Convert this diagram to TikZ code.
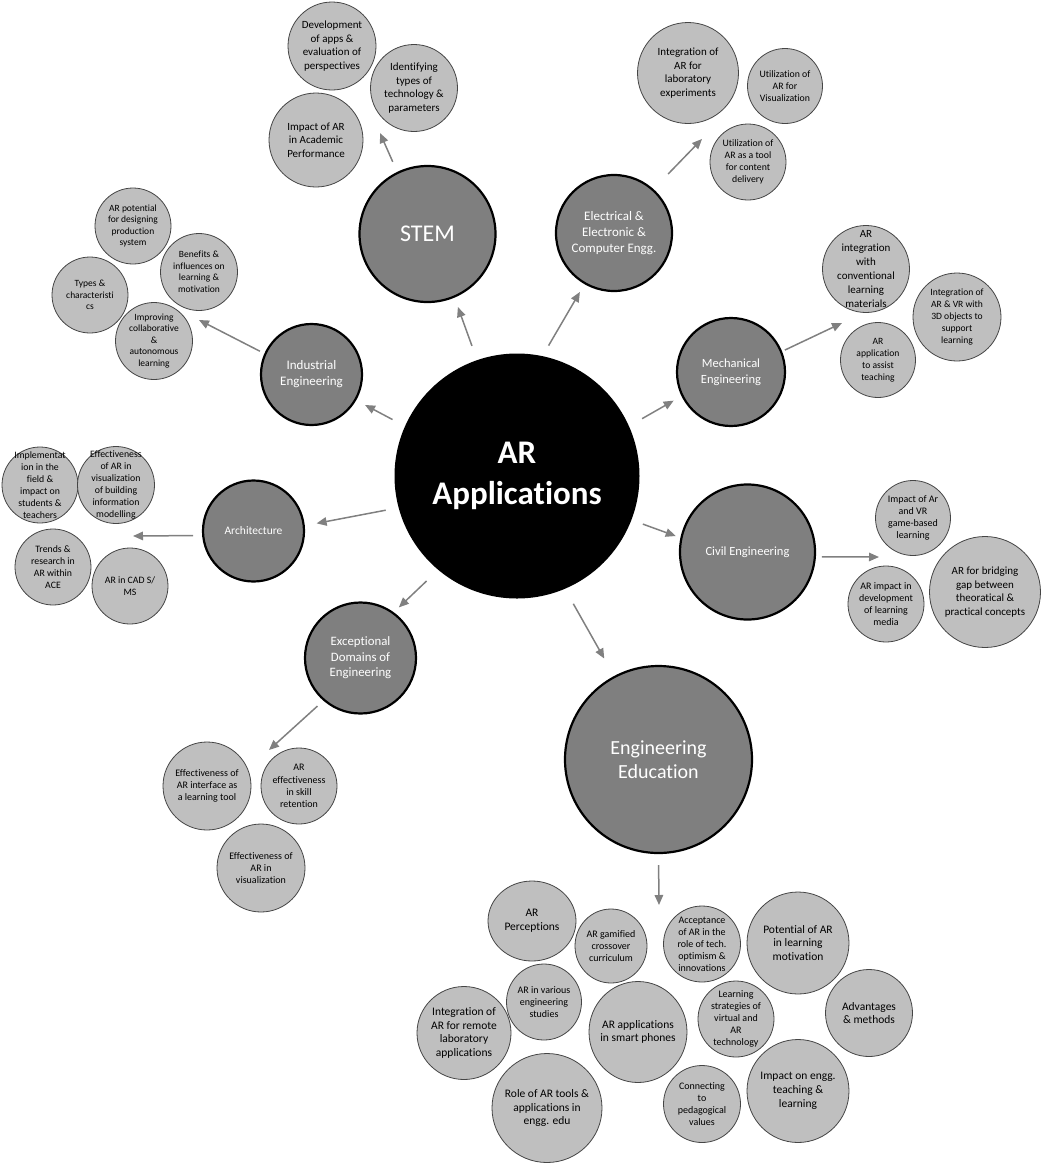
\documentclass[tikz,border=0pt]{standalone}
\usepackage{fontspec}
\setmainfont{Carlito}[Ligatures=CommonOff]
\usepackage{xcolor}
\usepackage{tikz}
\usetikzlibrary{arrows.meta, shapes.geometric}

\definecolor{topicgray}{HTML}{7F7F7F}
\definecolor{subgray}{HTML}{BFBFBF}
\definecolor{rimgray}{HTML}{454545}
\definecolor{arrowgray}{HTML}{808080}

\begin{document}
\begin{tikzpicture}[x=1pt, y=-1pt,
	hub/.style={circle, fill=black, text=white, inner sep=0pt, minimum size=245pt, align=center, font=\bfseries\fontsize{33}{41}\selectfont},
	topic/.style={circle, draw=black, line width=2.2pt, fill=topicgray, text=white, inner sep=0pt, align=center},
	sub/.style={ellipse, draw=rimgray, line width=0.8pt, fill=subgray, inner sep=0pt},
	subtext/.style={align=center, text=black, inner sep=0pt},
	arr/.style={draw=arrowgray, line width=1.5pt, -{Triangle[length=10pt, width=8.5pt]}}]

	\useasboundingbox (0,0) rectangle (1052,1163);

	\node[hub] (hub) at (517,476) {AR\\Applications};

	\begin{scope}
		\node[topic, minimum size=136pt, font=\fontsize{24}{28}\selectfont] (stem) at (427.5,234) {STEM};
		\node[topic, minimum size=116pt, font=\fontsize{13}{16}\selectfont] (ee) at (614,233) {Electrical \&\\Electronic \&\\Computer Engg.};
		\node[topic, minimum size=108pt, font=\fontsize{12.5}{16}\selectfont] (mech) at (731,372) {Mechanical\\Engineering};
		\node[topic, minimum size=135pt, font=\fontsize{12.5}{16}\selectfont] (civil) at (747.5,552) {Civil Engineering};
		\node[topic, minimum size=187pt, font=\fontsize{20}{23.5}\selectfont] (engedu) at (658.5,759.5) {Engineering\\Education};
		\node[topic, minimum size=111pt, font=\fontsize{12.8}{15.5}\selectfont] (exc) at (360.5,658) {Exceptional\\Domains of\\Engineering};
		\node[topic, minimum size=101pt, font=\fontsize{11.5}{14}\selectfont] (arch) at (253.5,531) {Architecture};
		\node[topic, minimum size=101pt, font=\fontsize{13}{16}\selectfont] (ind) at (311.5,374.5) {Industrial\\Engineering};
	\end{scope}

	\begin{scope}[arr]
		\draw[shorten <=15pt, shorten >=10pt] (hub.109) -- (stem.293);
		\draw[shorten <=12pt, shorten >=9pt] (hub.78) -- (ee.240);
		\draw[shorten <=15pt, shorten >=9pt] (hub.24) -- (mech.206);
		\draw[shorten <=12pt, shorten >=5pt] (hub.339) -- (civil.168);
		\draw[shorten <=17pt, shorten >=20pt] (hub.293) -- (engedu.118);
		\draw[shorten <=16pt, shorten >=7pt] (hub.230) -- (exc.54);
		\draw[shorten <=13pt, shorten >=12pt] (hub.195) -- (arch.6);
		\draw[shorten <=14pt, shorten >=10pt] (hub.156) -- (ind.330);
	\end{scope}

	\begin{scope}[arr]
		\coordinate (stem-to) at (380,133);
		\coordinate (ind-to) at (199,320);
		\coordinate (ee-to) at (702,139);
		\coordinate (mech-to) at (842,323);
		\coordinate (civil-to) at (879,557);
		\coordinate (arch-to) at (133,536);
		\coordinate (exc-to) at (269,750);
		\coordinate (engedu-to) at (659,905);

		\draw[shorten <=11pt] (stem.116) -- (stem-to);
		\draw[shorten <=5pt] (ind.156) -- (ind-to);
		\draw[shorten <=21pt] (ee.48) -- (ee-to);
		\draw[shorten <=3pt] (mech.22) -- (mech-to);
		\draw[shorten <=6pt] (civil.356) -- (civil-to);
		\draw[shorten <=9pt] (arch.185) -- (arch-to);
		\draw[shorten <=8pt] (exc.229) -- (exc-to);
		\draw[shorten <=11pt] (engedu.270) -- (engedu-to);
	\end{scope}

	\begin{scope}[subtext/.append style={font=\fontsize{11}{13.5}\selectfont}]
		\foreach \n/\p/\d/\t in {s1/{332,46}/88/{Development\\of apps \&\\evaluation of\\perspectives},
			s2/{414,88}/87/{Identifying\\types of\\technology \&\\parameters},
			s3/{316,140}/94/{Impact of AR\\in Academic\\Performance}}
		{
			\node[sub, minimum size=\d pt] (\n) at (\p) {};
			\node[subtext] (\n-t) at (\n) {\t};
		}
	\end{scope}

	\begin{scope}[subtext/.append style={font=\fontsize{9.5}{11.5}\selectfont}]
		\foreach \n/\p/\d/\t in {i1/{133,226}/76/{AR potential\\for designing\\production\\system},
			i2/{199,272}/77/{Benefits \&\\influences on\\learning \&\\motivation},
			i3/{90,295}/76/{Types \&\\characteristi\\cs},
			i4/{154,341}/77/{Improving\\collaborative\\\&\\autonomous\\learning}}
		{
			\node[sub, minimum size=\d pt] (\n) at (\p) {};
			\node[subtext] (\n-t) at (\n) {\t};
		}
	\end{scope}

	\begin{scope}[subtext/.append style={font=\fontsize{9.8}{12.2}\selectfont}]
		\node[sub, minimum size=101pt] (e1) at (688,73) {};
		\node[subtext, font=\fontsize{11}{13.5}\selectfont] (e1-t) at (e1) {Integration of\\AR for\\laboratory\\experiments};
		\foreach \n/\p/\d/\t in {e2/{785,86}/75/{Utilization of\\AR for\\Visualization},
			e3/{748,162}/76/{Utilization of\\AR as a tool\\for content\\delivery}}
		{
			\node[sub, minimum size=\d pt] (\n) at (\p) {};
			\node[subtext] (\n-t) at (\n) {\t};
		}
	\end{scope}

	\begin{scope}[subtext/.append style={font=\fontsize{9.6}{12}\selectfont}]
		\node[sub, minimum size=87pt] (m1) at (866,269) {};
		\node[subtext, font=\fontsize{11}{14}\selectfont] (m1-t) at (m1) {AR\\integration\\with\\conventional\\learning\\materials};
		\foreach \n/\p/\d/\t in {m2/{957,317}/88/{Integration of\\AR \& VR with\\3D objects to\\support\\learning},
			m3/{878,360}/75/{AR\\application\\to assist\\teaching}}
		{
			\node[sub, minimum size=\d pt] (\n) at (\p) {};
			\node[subtext] (\n-t) at (\n) {\t};
		}
	\end{scope}

	\begin{scope}[subtext/.append style={font=\fontsize{10}{12.2}\selectfont}]
		\foreach \n/\p/\d/\t in {c1/{913,518}/75/{Impact of Ar\\and VR\\game-based\\learning},
			c2/{886,604}/76/{AR impact in\\development\\of learning\\media}}
		{
			\node[sub, minimum size=\d pt] (\n) at (\p) {};
			\node[subtext] (\n-t) at (\n) {\t};
		}
		\node[sub, minimum size=111pt] (c3) at (985,592) {};
		\node[subtext, font=\fontsize{11}{13.5}\selectfont] (c3-t) at (c3) {AR for bridging\\gap between\\theoratical \&\\practical concepts};
	\end{scope}

	\begin{scope}[subtext/.append style={font=\fontsize{9.8}{12}\selectfont}]
		\foreach \n/\p/\d/\t in {a1/{40,485}/76/{Implementat\\ion in the\\field \&\\impact on\\students \&\\teachers},
			a2/{116,485}/77/{Effectiveness\\of AR in\\visualization\\of building\\information\\modelling},
			a3/{53,567}/76/{Trends \&\\research in\\AR within\\ACE},
			a4/{130,586}/76/{AR in CAD S/\\MS}}
		{
			\node[sub, minimum size=\d pt] (\n) at (\p) {};
			\node[subtext] (\n-t) at (\n) {\t};
		}
	\end{scope}

	\begin{scope}[subtext/.append style={font=\fontsize{10}{12.3}\selectfont}]
		\foreach \n/\p/\d/\t in {x1/{207,786}/88/{Effectiveness of\\AR interface as\\a learning tool},
			x2/{299,786}/76/{AR\\effectiveness\\in skill\\retention},
			x3/{261,868}/88/{Effectiveness of\\AR in\\visualization}}
		{
			\node[sub, minimum size=\d pt] (\n) at (\p) {};
			\node[subtext] (\n-t) at (\n) {\t};
		}
	\end{scope}

	\begin{scope}[subtext/.append style={font=\fontsize{11.5}{13.8}\selectfont}]
		\foreach \n/\p/\w/\h/\t in {g1/{532,921}/88/80/{AR\\Perceptions},
			g4/{798,943}/102/102/{Potential of AR\\in learning\\motivation},
			g6/{464,1033}/94/93/{Integration of\\AR for remote\\laboratory\\applications},
			g7/{638,1032}/98/101/{AR applications\\in smart phones},
			g9/{869,1013}/87/87/{Advantages\\\& methods},
			g10/{547,1108}/110/109/{Role of AR tools \&\\applications in\\engg. edu},
			g12/{798,1091}/102/103/{Impact on engg.\\teaching \&\\learning}}
		{
			\node[sub, minimum width=\w pt, minimum height=\h pt] (\n) at (\p) {};
			\node[subtext] (\n-t) at (\n) {\t};
		}
	\end{scope}

	\begin{scope}[subtext/.append style={font=\fontsize{10}{12}\selectfont}]
		\foreach \n/\p/\w/\h/\t in {g2/{611,946}/72/74/{AR gamified\\crossover\\curriculum},
			g3/{702,944}/77/76/{Acceptance\\of AR in the\\role of tech.\\optimism \&\\innovations},
			g5/{544,1002}/75/76/{AR in various\\engineering\\studies},
			g8/{736,1019}/76/76/{Learning\\strategies of\\virtual and\\AR\\technology},
			g11/{702,1104}/77/77/{Connecting\\to\\pedagogical\\values}}
		{
			\node[sub, minimum width=\w pt, minimum height=\h pt] (\n) at (\p) {};
			\node[subtext] (\n-t) at (\n) {\t};
		}
	\end{scope}
\end{tikzpicture}
\end{document}
